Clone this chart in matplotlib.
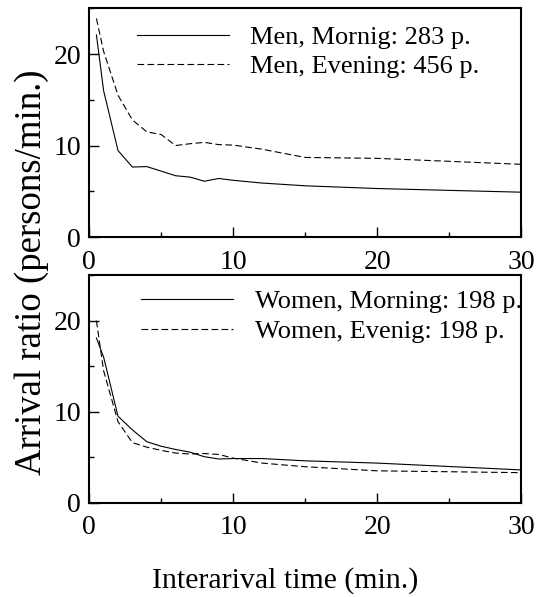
import numpy as np
import matplotlib.pyplot as plt
from matplotlib.ticker import MultipleLocator

plt.rcParams['font.family'] = ['Liberation Serif', 'DejaVu Serif']

# Interarrival time (min.)
t = [0.5, 1, 2, 3, 4, 5, 6, 7, 8, 9, 10, 12, 15, 20, 30]

# Arrival ratio (persons/min.)
men_morning = [22.1, 16.0, 9.45, 7.65, 7.7, 7.2, 6.7, 6.55, 6.1, 6.4, 6.2, 5.9, 5.6, 5.3, 4.9]
men_evening = [23.9, 20.3, 15.5, 12.8, 11.5, 11.2, 10.0, 10.2, 10.35, 10.1, 10.05, 9.6, 8.7, 8.6, 7.95]
women_morning = [18.1, 16.0, 9.5, 8.0, 6.7, 6.2, 5.85, 5.55, 5.05, 4.8, 4.85, 4.85, 4.6, 4.35, 3.6]
women_evening = [20.0, 14.5, 8.9, 6.6, 6.1, 5.75, 5.45, 5.35, 5.4, 5.3, 4.9, 4.35, 3.95, 3.5, 3.3]

labels_top = ['Men, Mornig: 283 p.', 'Men, Evening: 456 p.']
labels_bottom = ['Women, Morning: 198 p.', 'Women, Evenig: 198 p.']

fig = plt.figure(figsize=(5.44, 5.97), dpi=100)
ax1 = fig.add_axes([0.164, 0.603, 0.794, 0.383])
ax2 = fig.add_axes([0.164, 0.158, 0.794, 0.381])

dash = (0, (6, 3))


def style(ax):
    ax.set_xlim(0, 30)
    ax.set_ylim(0, 25)
    ax.xaxis.set_major_locator(MultipleLocator(10))
    ax.xaxis.set_minor_locator(MultipleLocator(5))
    ax.yaxis.set_major_locator(MultipleLocator(10))
    ax.yaxis.set_minor_locator(MultipleLocator(5))
    ax.tick_params(which='both', direction='in', labelsize=20, width=1.0)
    ax.tick_params(which='major', length=7)
    ax.tick_params(which='minor', length=3.6)
    ax.tick_params(axis='x', which='major', pad=9)
    ax.tick_params(axis='y', which='major', pad=6)
    for s in ax.spines.values():
        s.set_linewidth(1.5)


legend_kw = dict(loc='upper left', frameon=False, fontsize=19,
                 handlelength=3.5, handletextpad=0.8, labelspacing=0.22,
                 borderpad=0, borderaxespad=0)

ax1.plot(t, men_morning, color='black', lw=0.8, label=labels_top[0])
ax1.plot(t, men_evening, color='black', lw=0.8, ls=dash, label=labels_top[1])
style(ax1)
ax1.legend(bbox_to_anchor=(0.11, 0.925), **legend_kw)

ax2.plot(t, women_morning, color='black', lw=0.8, label=labels_bottom[0])
ax2.plot(t, women_evening, color='black', lw=0.8, ls=dash, label=labels_bottom[1])
style(ax2)
ax2.legend(bbox_to_anchor=(0.12, 0.935), **legend_kw)

fig.text(0.058, 0.544, 'Arrival ratio (persons/min.)', rotation=90,
         ha='center', va='center', fontsize=26.5)
fig.text(0.524, 0.028, 'Interarival time (min.)', ha='center', va='center',
         fontsize=21.5)

fig.savefig('out.png', dpi=100)
